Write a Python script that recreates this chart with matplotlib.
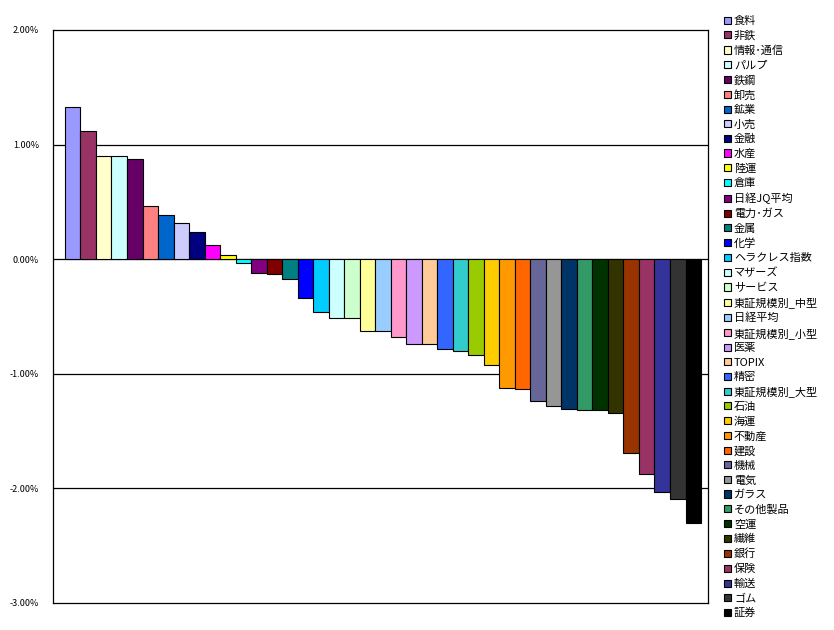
import matplotlib
matplotlib.use("Agg")
import matplotlib.pyplot as plt
from matplotlib.ticker import FuncFormatter

plt.rcParams['font.family'] = ['Noto Sans CJK JP', 'DejaVu Sans']

# sector names (legend order = bar order)
sectors = ["食料", "非鉄", "情報･通信", "パルプ", "鉄鋼", "卸売", "鉱業", "小売", "金融",
           "水産", "陸運", "倉庫", "日経JQ平均", "電力･ガス", "金属", "化学", "ヘラクレス指数",
           "マザーズ", "サービス", "東証規模別_中型", "日経平均", "東証規模別_小型", "医薬",
           "TOPIX", "精密", "東証規模別_大型", "石油", "海運", "不動産", "建設", "機械", "電気",
           "ガラス", "その他製品", "空運", "繊維", "銀行", "保険", "輸送", "ゴム", "証券"]

# daily change in %
changes = [1.33, 1.12, 0.90, 0.90, 0.87, 0.46, 0.39, 0.32, 0.24, 0.12, 0.04, -0.035,
           -0.12, -0.13, -0.17, -0.34, -0.46, -0.51, -0.51, -0.63, -0.63, -0.68, -0.74,
           -0.74, -0.78, -0.80, -0.84, -0.92, -1.12, -1.13, -1.24, -1.28, -1.31, -1.32,
           -1.32, -1.34, -1.69, -1.87, -2.03, -2.09, -2.30]

# old Excel default series palette
colors = ["#9999FF", "#993366", "#FFFFCC", "#CCFFFF", "#660066", "#FF8080", "#0066CC",
          "#CCCCFF", "#000080", "#FF00FF", "#FFFF00", "#00FFFF", "#800080", "#800000",
          "#008080", "#0000FF", "#00CCFF", "#CCFFFF", "#CCFFCC", "#FFFF99", "#99CCFF",
          "#FF99CC", "#CC99FF", "#FFCC99", "#3366FF", "#33CCCC", "#99CC00", "#FFCC00",
          "#FF9900", "#FF6600", "#666699", "#969696", "#003366", "#339966", "#003300",
          "#333300", "#993300", "#993366", "#333399", "#333333", "#000000"]

fig = plt.figure(figsize=(8.34, 6.30), dpi=100)
ax = fig.add_axes([53/834, 27/630, 655/834, 573/630])

for i, (name, val, col) in enumerate(zip(sectors, changes, colors)):
    ax.bar(i, val, width=1.0, color=col, edgecolor='black', linewidth=0.8, label=name, zorder=3)

ax.set_xlim(-1.27, 40.95)
ax.set_ylim(-3, 2)
ax.set_yticks([-3, -2, -1, 0, 1, 2])
ax.yaxis.set_major_formatter(FuncFormatter(lambda v, p: f"{v:.2f}%"))
ax.tick_params(axis='y', length=0, pad=10, labelsize=6.5)
ax.set_xticks([])
for y in [-2, -1, 0, 1]:
    ax.axhline(y, color='black', linewidth=0.9, zorder=2)
for s in ax.spines.values():
    s.set_linewidth(0.9)

ax.legend(loc='upper left', bbox_to_anchor=(724/834, 1 - 16/630), bbox_transform=fig.transFigure,
          frameon=False, fontsize=8, handlelength=0.6, handleheight=0.6, handletextpad=0.3,
          labelspacing=0.40, borderaxespad=0, borderpad=0)

fig.savefig("out.png", dpi=100)
